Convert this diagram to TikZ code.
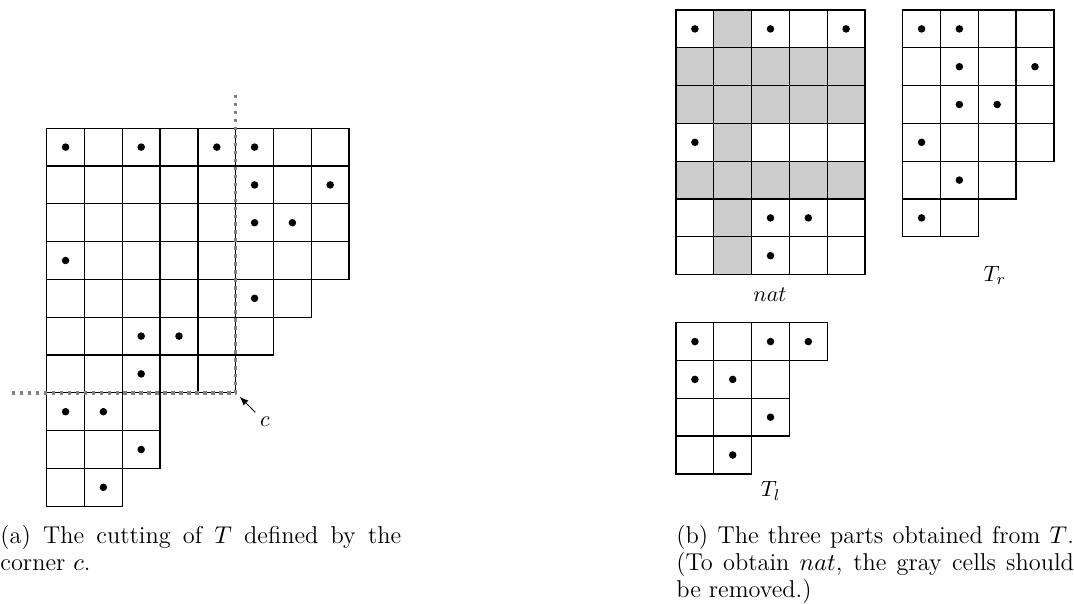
\documentclass[tikz,border=0pt]{standalone}
\begin{document}
\begin{tikzpicture}[x=.6cm,y=-.6cm,
    celda/.style={draw,semithick},
    gris/.style={fill=gray!40},
    corte/.style={gray,line width=1.6pt,dash pattern=on 1.6pt off 2pt,line join=round},
    leyenda/.style={anchor=north west,inner sep=0pt,align=justify,font=\fontsize{11}{12.1}\selectfont}]
    \useasboundingbox (0,0) rectangle (28.413,15.979);
    % Tablero T y el corte definido por la esquina c.
    \begin{scope}[shift={(1.235,3.392)}]
        \foreach \r/\n in {1/8,2/8,3/8,4/8,5/7,6/6,7/5,8/3,9/3,10/2}
            \foreach \c in {1,...,\n}
                \draw[celda] (\c-1,\r-1) rectangle (\c,\r);
        \foreach \r/\c in {1/1,1/3,1/5,1/6,2/6,2/8,3/6,3/7,4/1,5/6,6/3,6/4,7/3,8/1,8/2,9/3,10/2}
            \fill (\c-.5,\r-.5) circle (1.7pt);
        \coordinate (esquina) at (5,7);
        \coordinate (arriba) at (5,-.88);
        \coordinate (izquierda) at (-.99,7);
    \end{scope}
    \draw[corte] (arriba) -- (esquina) -- (izquierda);
    \node[inner sep=2pt] (c) at (7.01,11.16) {$c$};
    \draw[-latex,shorten >=2.5pt] (c.north west) -- (esquina);

    % Parte nat, con las celdas grises.
    \begin{scope}[shift={(17.884,.265)}]
        \fill[gris] (1,0) rectangle (2,7);
        \fill[gris] (0,1) rectangle (5,3);
        \fill[gris] (0,4) rectangle (5,5);
        \foreach \r in {1,...,7}
            \foreach \c in {1,...,5}
                \draw[celda] (\c-1,\r-1) rectangle (\c,\r);
        \foreach \r/\c in {1/1,1/3,1/5,4/1,6/3,6/4,7/3}
            \fill (\c-.5,\r-.5) circle (1.7pt);
    \end{scope}
    \node (nat) at (20.37,7.80) {$nat$};

    % Parte T_r.
    \begin{scope}[shift={(23.88,.265)}]
        \foreach \r/\n in {1/4,2/4,3/4,4/4,5/3,6/2}
            \foreach \c in {1,...,\n}
                \draw[celda] (\c-1,\r-1) rectangle (\c,\r);
        \foreach \r/\c in {1/1,1/2,2/2,2/4,3/2,3/3,4/1,5/2,6/1}
            \fill (\c-.5,\r-.5) circle (1.7pt);
    \end{scope}
    \node (Tr) at (26.32,7.28) {$T_r$};

    % Parte T_l.
    \begin{scope}[shift={(17.884,8.537)}]
        \foreach \r/\n in {1/4,2/3,3/3,4/2}
            \foreach \c in {1,...,\n}
                \draw[celda] (\c-1,\r-1) rectangle (\c,\r);
        \foreach \r/\c in {1/1,1/3,1/4,2/1,2/2,3/3,4/2}
            \fill (\c-.5,\r-.5) circle (1.7pt);
    \end{scope}
    \node (Tl) at (20.39,12.99) {$T_l$};

    \node[leyenda,text width=181pt] (capa) at (0,13.89)
        {(a) The cutting of $T$ defined by the\linebreak corner $c$.};
    \node[leyenda,text width=179.5pt] (capb) at (17.884,13.89)
        {(b) The three parts obtained from $T$.\linebreak (To obtain $nat$, the gray cells should\linebreak be removed.)};
\end{tikzpicture}
\end{document}
